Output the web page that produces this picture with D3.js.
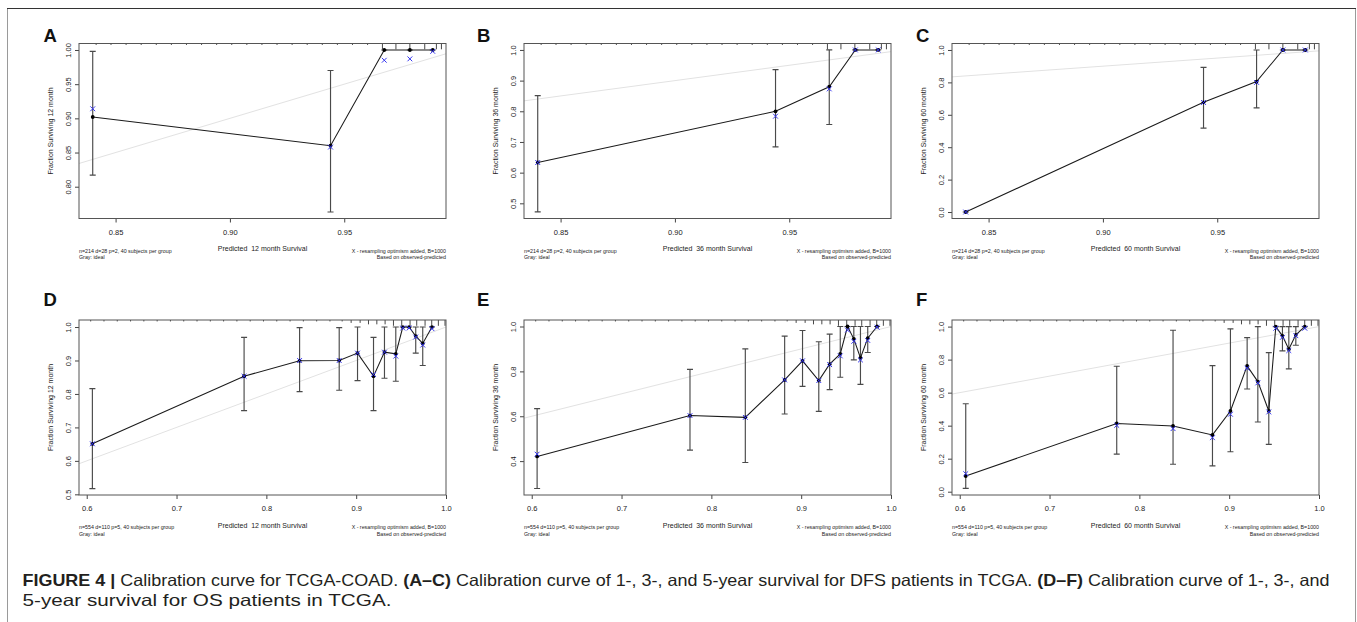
<!DOCTYPE html>
<html><head><meta charset="utf-8">
<script src="https://cdn.jsdelivr.net/npm/d3@7"></script>
<style>
body{margin:0;background:#fff}
svg{display:block}
text{font-family:"Liberation Sans",Arial,Helvetica,sans-serif}
</style>
</head><body>
<svg id="c" width="1357" height="622"></svg>
<script>
// ---------------- DATA ----------------
const panelLetters = ["A","B","C","D","E","F"];
const horizons = ["12","36","60","12","36","60"];
const subtitleLeftTop = "n=214 d=28 p=2, 40 subjects per group";
const subtitleLeftBottom = "n=554 d=110 p=5, 40 subjects per group";
const subtitleLeft2 = "Gray: ideal";
const subtitleRight1 = "X - resampling optimism added, B=1000";
const subtitleRight2 = "Based on observed-predicted";

// A: DFS 12 month
const predA = [0.840, 0.944, 0.9675, 0.9787, 0.9887];
const obsA  = [0.902, 0.860, 1.000, 1.000, 1.000];
const corA  = [0.914, 0.858, 0.985, 0.987, 0.998];
const loA   = [0.817, 0.763, 1.000, 1.000, 1.000];
const hiA   = [0.998, 0.970, 1.000, 1.000, 1.000];
// B: DFS 36 month
const predB = [0.840, 0.944, 0.9675, 0.9789, 0.9889];
const obsB  = [0.633, 0.800, 0.880, 1.000, 1.000];
const corB  = [0.633, 0.784, 0.873, 1.000, 1.000];
const loB   = [0.472, 0.684, 0.757, 1.000, 1.000];
const hiB   = [0.851, 0.936, 1.000, 1.000, 1.000];
// C: DFS 60 month
const predC = [0.840, 0.944, 0.9672, 0.9787, 0.9885];
const obsC  = [0.000, 0.677, 0.805, 1.000, 1.000];
const corC  = [0.000, 0.676, 0.800, 1.000, 1.000];
const loC   = [0.000, 0.518, 0.643, 1.000, 1.000];
const hiC   = [0.000, 0.893, 1.000, 1.000, 1.000];
// D: OS 12 month
const predD = [0.6063, 0.7752, 0.837, 0.8811, 0.9015, 0.9193, 0.9315, 0.9441, 0.9519, 0.9589, 0.9663, 0.9741, 0.9844];
const obsD  = [0.651, 0.853, 0.899, 0.900, 0.922, 0.853, 0.925, 0.920, 1.000, 1.000, 0.973, 0.951, 1.000];
const corD  = [0.651, 0.853, 0.900, 0.900, 0.922, 0.858, 0.925, 0.913, 0.997, 0.997, 0.970, 0.946, 0.995];
const loD   = [0.517, 0.750, 0.807, 0.811, 0.840, 0.750, 0.847, 0.838, 1.000, 1.000, 0.922, 0.885, 1.000];
const hiD   = [0.816, 0.969, 0.998, 0.998, 1.000, 0.969, 1.000, 1.000, 1.000, 1.000, 1.000, 1.000, 1.000];
// E: OS 36 month
const predE = [0.606, 0.7762, 0.8378, 0.8816, 0.9015, 0.9196, 0.9317, 0.9435, 0.9516, 0.9586, 0.966, 0.9741, 0.9845];
const obsE  = [0.421, 0.603, 0.595, 0.762, 0.847, 0.759, 0.832, 0.878, 1.000, 0.945, 0.860, 0.948, 1.000];
const corE  = [0.431, 0.603, 0.595, 0.762, 0.847, 0.759, 0.830, 0.869, 0.984, 0.934, 0.851, 0.938, 0.997];
const loE   = [0.278, 0.449, 0.394, 0.610, 0.733, 0.622, 0.719, 0.774, 1.000, 0.851, 0.742, 0.884, 1.000];
const hiE   = [0.634, 0.809, 0.900, 0.957, 0.982, 0.932, 0.966, 1.000, 1.000, 1.000, 1.000, 1.000, 1.000];
// F: OS 60 month
const predF = [0.6067, 0.7748, 0.8375, 0.8814, 0.9014, 0.920, 0.9319, 0.9441, 0.9519, 0.9593, 0.9664, 0.9742, 0.9842];
const obsF  = [0.095, 0.413, 0.398, 0.344, 0.489, 0.762, 0.667, 0.489, 1.000, 0.944, 0.863, 0.950, 1.000];
const corF  = [0.109, 0.402, 0.382, 0.327, 0.469, 0.748, 0.659, 0.483, 0.990, 0.935, 0.855, 0.945, 0.990];
const loF   = [0.020, 0.228, 0.166, 0.156, 0.242, 0.622, 0.422, 0.287, 1.000, 0.853, 0.744, 0.887, 1.000];
const hiF   = [0.533, 0.760, 0.978, 0.764, 0.986, 0.933, 1.000, 0.842, 1.000, 1.000, 1.000, 1.000, 1.000];

// tick values
const xTicksTop = [0.85, 0.90, 0.95];
const xTicksBottom = [0.6, 0.7, 0.8, 0.9, 1.0];
const yTicksA = [0.80, 0.85, 0.90, 0.95, 1.00];
const yTicksB = [0.5, 0.6, 0.7, 0.8, 0.9, 1.0];
const yTicksC = [0.0, 0.2, 0.4, 0.6, 0.8, 1.0];
const yTicksD = [0.5, 0.6, 0.7, 0.8, 0.9, 1.0];
const yTicksE = [0.4, 0.6, 0.8, 1.0];
const yTicksF = [0.0, 0.2, 0.4, 0.6, 0.8, 1.0];

// distribution of predictions (spike rug at top)
const rugTopX = [0.8415,0.848,0.8546,0.8612,0.8678,0.8744,0.881,0.8876,0.8942,0.9008,0.9074,0.914,0.9206,0.9272,0.9338,0.9404,0.947,0.9536,0.9602,0.9667,0.9726,0.9787,0.9852,0.9903,0.9925];
const rugTopN = [1,1,1,1,1,1,1,1,1,1,1,1,1,1,1,1,1,1,1,4,4,4,4,4,4];
const rugBotX = [0.6044,0.6192,0.634,0.6488,0.6636,0.6784,0.6932,0.708,0.7228,0.7376,0.7524,0.7672,0.782,0.7968,0.8116,0.8264,0.8412,0.856,0.8708,0.8844,0.8944,0.9044,0.9137,0.923,0.9322,0.9415,0.9507,0.96,0.9674,0.9767,0.9841,0.9915,0.9989];
const rugBotN = [1,1,1,1,1,1,1,1,1,1,1,1,1,1,1,1,1,1,1,1,2,2,3,3,3,4,4,4,4,4,4,4,4];

// ---------------- BUILD ----------------
const panels = [
  {pred:predA, obs:obsA, cor:corA, lo:loA, hi:hiA, yt:yTicksA, xt:xTicksTop, yd:[0.7535,1.0095], xd:[0.834,0.9945], fmtY:".2f", fmtX:".2f", rx:rugTopX, rn:rugTopN, sub:subtitleLeftTop},
  {pred:predB, obs:obsB, cor:corB, lo:loB, hi:hiB, yt:yTicksB, xt:xTicksTop, yd:[0.4505,1.021], xd:[0.834,0.9945], fmtY:".1f", fmtX:".2f", rx:rugTopX, rn:rugTopN, sub:subtitleLeftTop},
  {pred:predC, obs:obsC, cor:corC, lo:loC, hi:hiC, yt:yTicksC, xt:xTicksTop, yd:[-0.04,1.04], xd:[0.834,0.9945], fmtY:".1f", fmtX:".2f", rx:rugTopX, rn:rugTopN, sub:subtitleLeftTop},
  {pred:predD, obs:obsD, cor:corD, lo:loD, hi:hiD, yt:yTicksD, xt:xTicksBottom, yd:[0.498,1.021], xd:[0.5914,1.0], fmtY:".1f", fmtX:".1f", rx:rugBotX, rn:rugBotN, sub:subtitleLeftBottom},
  {pred:predE, obs:obsE, cor:corE, lo:loE, hi:hiE, yt:yTicksE, xt:xTicksBottom, yd:[0.249,1.029], xd:[0.5914,1.0], fmtY:".1f", fmtX:".1f", rx:rugBotX, rn:rugBotN, sub:subtitleLeftBottom},
  {pred:predF, obs:obsF, cor:corF, lo:loF, hi:hiF, yt:yTicksF, xt:xTicksBottom, yd:[-0.02,1.04], xd:[0.5914,1.0], fmtY:".1f", fmtX:".1f", rx:rugBotX, rn:rugBotN, sub:subtitleLeftBottom}
];

const svg = d3.select("#c");
const colLeft = [79, 524, 952];
const rowTop = [43.5, 320];
const letterX = [43.5, 477, 916];
const letterY = [41.7, 306];
const W = 367, H = 175;

// figure frame
svg.append("path").attr("d","M7.5,622 V8.5").attr("stroke","#9a9a9a").attr("fill","none");
svg.append("path").attr("d","M1355.5,622 V8.5").attr("stroke","#9a9a9a").attr("fill","none");
svg.append("path").attr("d","M7,8.5 H1356").attr("stroke","#333").attr("fill","none");

const rugLen = d3.scaleLinear().domain([0,4]).range([0,5.8]);

panels.forEach((p, i) => {
  const col = i % 3, row = Math.floor(i / 3);
  const g = svg.append("g").attr("transform", `translate(${colLeft[col]},${rowTop[row]})`);
  const x = d3.scaleLinear().domain(p.xd).range([0, W]);
  const y = d3.scaleLinear().domain(p.yd).range([H, 0]);

  // letter
  svg.append("text").attr("x", letterX[col]).attr("y", letterY[row])
    .attr("font-size", 18.5).attr("font-weight", "bold").attr("fill", "#111")
    .text(panelLetters[i]);

  // ideal line
  const t0 = Math.max(p.xd[0], p.yd[0]), t1 = Math.min(p.xd[1], p.yd[1]);
  g.append("line").attr("x1", x(t0)).attr("y1", y(t0)).attr("x2", x(t1)).attr("y2", y(t1))
    .attr("stroke", "#e2e2e2").attr("stroke-width", 1);

  // rug
  g.append("g").selectAll("line").data(p.rx.map((v, k) => [v, p.rn[k]])).join("line")
    .attr("x1", d => x(d[0])).attr("x2", d => x(d[0]))
    .attr("y1", 0).attr("y2", d => rugLen(d[1]))
    .attr("stroke", "#333").attr("stroke-width", 0.9);

  // axes
  const ay = g.append("g").call(d3.axisLeft(y).tickValues(p.yt).tickSize(4).tickFormat(d3.format(p.fmtY)));
  ay.select(".domain").remove();
  ay.selectAll("line").attr("stroke", "#444");
  ay.selectAll("text").attr("transform", "rotate(-90)").attr("x", 0).attr("y", -8.5).attr("dy", 0)
    .attr("text-anchor", "middle").attr("font-size", 7.5).attr("fill", "#222")
    .attr("font-family", "Liberation Sans, Arial, sans-serif");

  const ax = g.append("g").attr("transform", `translate(0,${H})`)
    .call(d3.axisBottom(x).tickValues(p.xt).tickSize(4).tickFormat(d3.format(p.fmtX)));
  ax.select(".domain").remove();
  ax.selectAll("line").attr("stroke", "#444");
  ax.selectAll("text").attr("y", 16).attr("dy", 0).attr("font-size", 7.5).attr("fill", "#222")
    .attr("font-family", "Liberation Sans, Arial, sans-serif");

  // box
  g.append("rect").attr("x", 0).attr("y", 0).attr("width", W).attr("height", H)
    .attr("fill", "none").attr("stroke", "#555").attr("stroke-width", 1);

  const pts = p.pred.map((v, k) => ({x: v, o: p.obs[k], c: p.cor[k], lo: p.lo[k], hi: p.hi[k]}));

  // error bars
  const eb = g.append("g").attr("stroke", "#4a4a4a").attr("stroke-width", 1.15).attr("fill", "none");
  eb.selectAll("path").data(pts).join("path")
    .attr("d", d => {
      const xx = x(d.x), a = y(d.lo), b = y(d.hi);
      return `M${xx},${a}V${b}M${xx-3},${a}H${xx+3}M${xx-3},${b}H${xx+3}`;
    });

  // observed line
  g.append("path").datum(pts)
    .attr("d", d3.line().x(d => x(d.x)).y(d => y(d.o)))
    .attr("fill", "none").attr("stroke", "#1a1a1a").attr("stroke-width", 1.05);
  g.append("g").selectAll("circle").data(pts).join("circle")
    .attr("cx", d => x(d.x)).attr("cy", d => y(d.o)).attr("r", 1.9).attr("fill", "#000");

  // bias-corrected x marks
  g.append("g").selectAll("path").data(pts).join("path")
    .attr("d", d => {
      const xx = x(d.x), yy = y(d.c), s = 2.4;
      return `M${xx-s},${yy-s}L${xx+s},${yy+s}M${xx-s},${yy+s}L${xx+s},${yy-s}`;
    })
    .attr("stroke", "#3535f0").attr("stroke-width", 1).attr("fill", "none");

  // labels
  g.append("text").attr("transform", `translate(-28.5,${H/2}) rotate(-90)`)
    .attr("text-anchor", "middle").attr("dy", "0.35em").attr("font-size", 7).attr("fill", "#222")
    .text(`Fraction Surviving ${horizons[i]} month`);
  g.append("text").attr("x", W/2).attr("y", H + 32.7).attr("text-anchor", "middle")
    .attr("font-size", 7).attr("fill", "#222").style("white-space", "pre")
    .text(`Predicted  ${horizons[i]} month Survival`);

  g.append("text").attr("x", 0).attr("y", H + 34).attr("font-size", 5.3).attr("fill", "#222").text(p.sub);
  g.append("text").attr("x", 0).attr("y", H + 40.7).attr("font-size", 5.3).attr("fill", "#222").text(subtitleLeft2);
  g.append("text").attr("x", W).attr("y", H + 34).attr("text-anchor", "end").attr("font-size", 5.3).attr("fill", "#222").text(subtitleRight1);
  g.append("text").attr("x", W).attr("y", H + 40.7).attr("text-anchor", "end").attr("font-size", 5.3).attr("fill", "#222").text(subtitleRight2);
});

// caption
const cap1 = svg.append("text").attr("x", 22.5).attr("y", 586).attr("font-size", 16.5).attr("fill", "#231f20")
  .attr("textLength", 1307).attr("lengthAdjust", "spacingAndGlyphs");
cap1.append("tspan").attr("font-weight", "bold").text("FIGURE 4 | ");
cap1.append("tspan").text("Calibration curve for TCGA-COAD. ");
cap1.append("tspan").attr("font-weight", "bold").text("(A–C)");
cap1.append("tspan").text(" Calibration curve of 1-, 3-, and 5-year survival for DFS patients in TCGA. ");
cap1.append("tspan").attr("font-weight", "bold").text("(D–F)");
cap1.append("tspan").text(" Calibration curve of 1-, 3-, and");
svg.append("text").attr("x", 22.5).attr("y", 606).attr("font-size", 16.5).attr("fill", "#231f20")
  .attr("textLength", 369).attr("lengthAdjust", "spacingAndGlyphs")
  .text("5-year survival for OS patients in TCGA.");
</script>
</body></html>
